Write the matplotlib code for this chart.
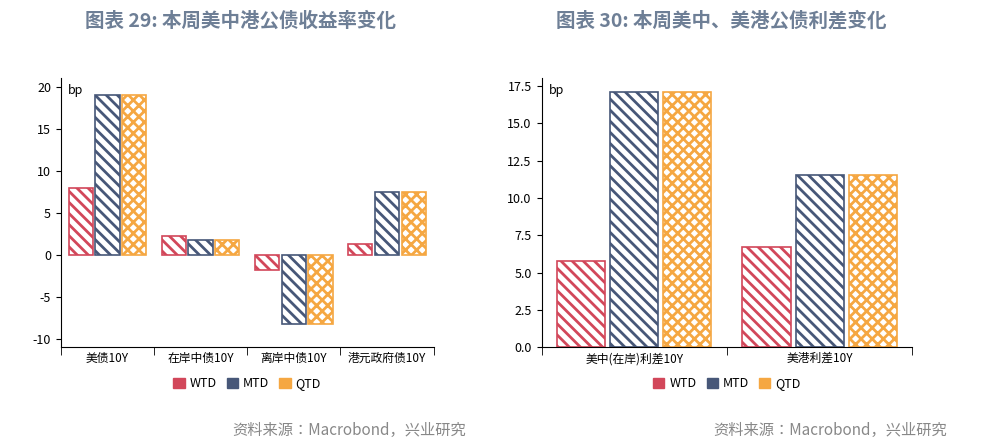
import matplotlib
matplotlib.use("Agg")
import matplotlib.pyplot as plt
import numpy as np
from matplotlib.patches import Patch
plt.rcParams['font.family'] = ['Noto Sans CJK SC', 'Noto Sans CJK JP', 'Noto Sans CJK TC', 'DejaVu Sans']
plt.rcParams['hatch.linewidth'] = 2.0
plt.rcParams['axes.unicode_minus'] = False

cats1 = ["美债10Y", "在岸中债10Y", "离岸中债10Y", "港元政府债10Y"]
wtd1 = [8.0, 2.2, -1.8, 1.3]
mtd1 = [19.0, 1.8, -8.2, 7.5]
qtd1 = [19.0, 1.8, -8.2, 7.5]
cats2 = ["美中(在岸)利差10Y", "美港利差10Y"]
wtd2 = [5.8, 6.7]
mtd2 = [17.1, 11.5]
qtd2 = [17.1, 11.5]
series = ["WTD", "MTD", "QTD"]
colors = ["#d2475a", "#475778", "#f5a742"]
hatches = ["\\\\\\", "\\\\\\", "xxx"]

fig = plt.figure(figsize=(9.81, 4.48), dpi=100)
ax1 = fig.add_axes([0.062, 0.225, 0.38, 0.6])
ax2 = fig.add_axes([0.552, 0.225, 0.378, 0.6])

def draw(ax, cats, vals, width):
    x = np.arange(len(cats))
    for i, (v, c, h) in enumerate(zip(vals, colors, hatches)):
        ax.bar(x + (i - 1) * width * 1.1, v, width, facecolor="white", edgecolor=c, hatch=h, linewidth=1.2)
    ax.set_xticks(x)
    ax.set_xticklabels(cats, fontsize=8.5)
    ax.set_xticks(np.arange(len(cats) + 1) - 0.5, minor=True)
    ax.tick_params(axis="x", which="major", length=0)
    ax.tick_params(axis="x", which="minor", length=6)
    ax.set_xlim(-0.5, len(cats) - 0.5)
    for s in ["top", "right"]:
        ax.spines[s].set_visible(False)
    ax.tick_params(axis="y", labelsize=9)
    ax.text(0.02, 0.98, "bp", transform=ax.transAxes, fontsize=9, va="top")
    handles = [Patch(facecolor=c, edgecolor=c, hatch=None) for c in colors]
    ax.legend(handles, series, loc="upper center", bbox_to_anchor=(0.5, -0.07), ncol=3, frameon=False,
              fontsize=9, handlelength=0.9, handleheight=0.9, columnspacing=0.8, handletextpad=0.4)

draw(ax1, cats1, [wtd1, mtd1, qtd1], 0.26)
ax1.set_ylim(-11, 21)
ax1.set_yticks([-10, -5, 0, 5, 10, 15, 20])
draw(ax2, cats2, [wtd2, mtd2, qtd2], 0.26)
ax2.set_ylim(0, 18)
ax2.set_yticks(np.arange(0, 18, 2.5))
ax2.set_yticklabels([f"{v:.1f}" for v in np.arange(0, 18, 2.5)])

tc = "#6e7f96"
fig.text(0.245, 0.94, "图表 29: 本周美中港公债收益率变化", ha="center", fontsize=14, color=tc, weight="bold")
fig.text(0.735, 0.94, "图表 30: 本周美中、美港公债利差变化", ha="center", fontsize=14, color=tc, weight="bold")
fig.text(0.475, 0.03, "资料来源：Macrobond，兴业研究", ha="right", fontsize=11, color="#888888")
fig.text(0.965, 0.03, "资料来源：Macrobond，兴业研究", ha="right", fontsize=11, color="#888888")
fig.savefig("out.png", dpi=100)
